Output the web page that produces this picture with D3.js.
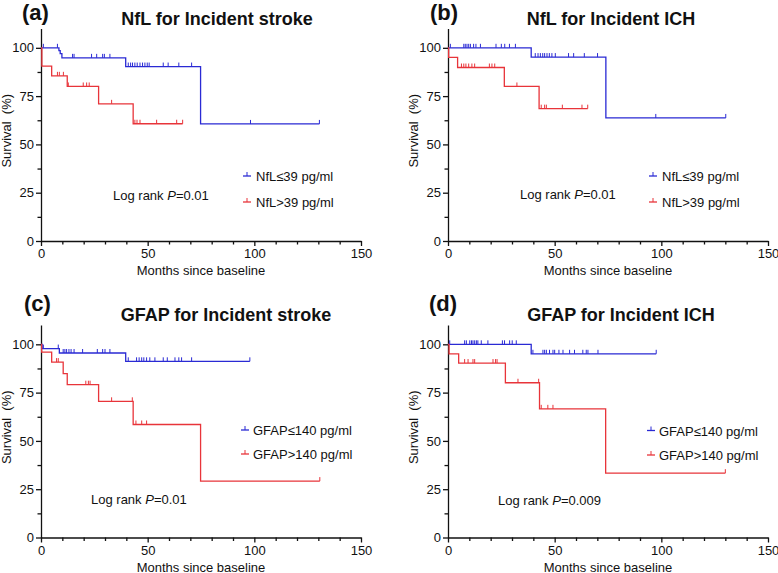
<!DOCTYPE html>
<html>
<head>
<meta charset="utf-8">
<script src="https://cdn.jsdelivr.net/npm/d3@7"></script>
<style>
  html, body { margin: 0; padding: 0; background: #fff; }
  svg text { font-family: "Liberation Sans", Arial, sans-serif; fill: #111; }
</style>
</head>
<body>
<svg id="chart" width="778" height="573"></svg>
<script>
// ---------------- DATA ----------------
const panelLabels = ["(a)", "(b)", "(c)", "(d)"];
const panelTitles = ["NfL for Incident stroke", "NfL for Incident ICH", "GFAP for Incident stroke", "GFAP for Incident ICH"];
const legendLow = ["NfL≤39 pg/ml", "NfL≤39 pg/ml", "GFAP≤140 pg/ml", "GFAP≤140 pg/ml"];
const legendHigh = ["NfL>39 pg/ml", "NfL>39 pg/ml", "GFAP>140 pg/ml", "GFAP>140 pg/ml"];
const pValues = ["0.01", "0.01", "0.01", "0.009"];
const xMajorTicks = [0, 50, 100, 150];
const xMinorTicks = [10, 20, 30, 40, 60, 70, 80, 90, 110, 120, 130, 140];
const yMajorTicks = [0, 25, 50, 75, 100];
const yMinorTicks = [12.5, 37.5, 62.5, 87.5];
const xLabel = "Months since baseline";
const yLabel = "Survival  (%)";

// [month, survival %] step points (last = end of follow-up)
const aLowSteps  = [[0,100],[8.4,98.5],[9,97],[9.8,94.8],[39.7,90.3],[74.8,60.6],[130.5,60.6]];
const aLowCensor = [1.1,7.7,14.8,15.5,23.7,26.1,28.9,29.7,32.3,40.9,42,42.9,44,45.1,46.4,47.6,48.7,49.8,50.7,57.3,59.6,64.6,70.6,98.2,130.5];
const aHighSteps  = [[0,100],[0.4,90.5],[5,85.5],[12.3,80],[27,71],[43.2,60.7],[66.4,60.7]];
const aHighCensor = [7.7,8.6,10.5,12.8,19.8,21.4,22.6,33.1,44,45,46.4,54.2,63.6,66.4];

const bLowSteps  = [[0,100],[39,95.2],[74,63.7],[130.2,63.7]];
const bLowCensor = [1.1,7.4,8.1,8.9,9.7,10.5,12,13.1,15.2,22.5,25,26.6,28.8,31.6,40.9,42.2,43.3,44.4,45.3,46.4,47.5,48.7,50.3,56.5,58.9,63.9,70.1,97.4,130.2];
const bHighSteps  = [[0,100],[0.3,95.1],[4.5,89.8],[26.4,80],[42.7,68.5],[65.5,68.5]];
const bHighCensor = [6.3,7.4,8.4,9.7,11.2,12.5,19.4,20.6,21.9,32.3,43.7,45.3,46.1,53.6,62.8,65.5];

const cLowSteps  = [[0,100],[0.5,97.8],[8.6,95.5],[39.7,91.2],[97.9,91.2]];
const cLowCensor = [1.1,8.1,10.4,11.2,12,13.1,14.1,15.5,19.5,26.4,28.9,30,32.3,40.9,44.8,46,47.2,48.2,49.5,51,53.4,57.3,59.2,62.8,64.6,65.9,70.6,97.9];
const cHighSteps  = [[0,100],[0.3,96],[5,90.8],[10.4,84.8],[12.3,79.1],[27,70.5],[43.2,58.5],[74.8,29.2],[130.7,29.2]];
const cHighCensor = [7.3,8.1,21,22.2,23,33.1,42.8,44.5,47.2,49.5,130.7];

const dLowSteps  = [[0,100],[39,95.1],[97.6,95.1]];
const dLowCensor = [0.8,7.8,8.6,10.2,11,11.7,12.5,13.3,14,15.6,18.7,25.5,26.5,28.9,30.1,32,39.8,44.5,45.3,46.1,47.6,49.2,50,52,53.9,57,59.3,63.2,64.8,65.6,70.3,97.6];
const dHighSteps  = [[0,100],[0.5,95.1],[5,90.3],[26.9,80.1],[42.9,66.6],[73.9,33.3],[130,33.3]];
const dHighCensor = [7.8,9.4,11.7,12.5,21.1,22.3,23,32.8,42.5,43.7,46.8,49.2,130];

const lowSteps = [aLowSteps, bLowSteps, cLowSteps, dLowSteps];
const lowCensor = [aLowCensor, bLowCensor, cLowCensor, dLowCensor];
const highSteps = [aHighSteps, bHighSteps, cHighSteps, dHighSteps];
const highCensor = [aHighCensor, bHighCensor, cHighCensor, dHighCensor];

// ---------------- LAYOUT ----------------
const BLUE = "#2a2ad4", RED = "#e8343a";
const layout = [
  { x0: 41,  x1: 361, yb: 241,   yt: 28.5, titleX: 217, titleY: 24.5, labX: 22,  labY: 19.5,
    logX: 113, logY: 200, legSym: 247, legTxt: 256, legY: [176, 202] },
  { x0: 448, x1: 768, yb: 241,   yt: 28.5, titleX: 611, titleY: 24.5, labX: 430, labY: 19.5,
    logX: 520, logY: 199, legSym: 653, legTxt: 662, legY: [176, 202] },
  { x0: 41,  x1: 361, yb: 537.5, yt: 325,  titleX: 226, titleY: 320.5, labX: 24, labY: 311,
    logX: 91, logY: 504, legSym: 245, legTxt: 253, legY: [430, 454] },
  { x0: 448, x1: 768, yb: 537.5, yt: 325,  titleX: 621, titleY: 321, labX: 429, labY: 311,
    logX: 498, logY: 505, legSym: 651, legTxt: 659, legY: [430.5, 455] }
];

const svg = d3.select("#chart");

function survAt(steps, t) {
  let s = steps[0][1];
  for (const p of steps) { if (p[0] <= t) s = p[1]; }
  return s;
}

layout.forEach((L, i) => {
  const g = svg.append("g");
  const x = d3.scaleLinear().domain([0, 150]).range([L.x0, L.x1]);
  const y = d3.scaleLinear().domain([0, 110]).range([L.yb, L.yt]);

  // axes
  g.append("g").attr("transform", `translate(0,${L.yb})`)
    .call(d3.axisBottom(x).tickValues(xMajorTicks).tickSize(5).tickSizeOuter(0).tickPadding(3));
  const xAxMin = g.append("g").attr("transform", `translate(0,${L.yb})`)
    .call(d3.axisBottom(x).tickValues(xMinorTicks).tickSize(3.5).tickSizeOuter(0).tickFormat(""));
  xAxMin.select(".domain").remove();
  g.append("g").attr("transform", `translate(${L.x0},0)`)
    .call(d3.axisLeft(y).tickValues(yMajorTicks).tickSize(5).tickSizeOuter(0).tickPadding(2));
  const yAxMin = g.append("g").attr("transform", `translate(${L.x0},0)`)
    .call(d3.axisLeft(y).tickValues(yMinorTicks).tickSize(3.5).tickSizeOuter(0).tickFormat(""));
  yAxMin.select(".domain").remove();
  g.selectAll(".domain, .tick line").attr("stroke", "#111").attr("stroke-width", 1.3);
  g.selectAll(".tick text").attr("font-size", 13).attr("font-family", '"Liberation Sans", Arial, sans-serif').attr("fill", "#111");

  // axis titles
  g.append("text").attr("x", (L.x0 + L.x1) / 2).attr("y", L.yb + 34)
    .attr("text-anchor", "middle").attr("font-size", 13).text(xLabel);
  g.append("text").attr("transform", `translate(${L.x0 - 30},${(L.yb + L.yt) / 2 - 4}) rotate(-90)`)
    .attr("text-anchor", "middle").attr("font-size", 13).style("white-space", "pre").text(yLabel);

  // title + panel label
  g.append("text").attr("x", L.titleX).attr("y", L.titleY).attr("text-anchor", "middle")
    .attr("font-size", 18).attr("font-weight", "bold").text(panelTitles[i]);
  g.append("text").attr("x", L.labX).attr("y", L.labY)
    .attr("font-size", 22).attr("font-weight", "bold").text(panelLabels[i]);

  // curves
  const line = d3.line().x(d => x(d[0])).y(d => y(d[1])).curve(d3.curveStepAfter);
  const series = [
    { steps: lowSteps[i], cens: lowCensor[i], color: BLUE },
    { steps: highSteps[i], cens: highCensor[i], color: RED }
  ];
  series.forEach(s => {
    g.append("path").datum(s.steps).attr("d", line)
      .attr("fill", "none").attr("stroke", s.color).attr("stroke-width", 1.3);
    g.selectAll(null).data(s.cens).enter().append("line")
      .attr("x1", t => x(t)).attr("x2", t => x(t))
      .attr("y1", t => y(survAt(s.steps, t))).attr("y2", t => y(survAt(s.steps, t)) - 4)
      .attr("stroke", s.color).attr("stroke-width", 1);
  });

  // legend
  [[legendLow[i], BLUE], [legendHigh[i], RED]].forEach((item, k) => {
    const ly = L.legY[k];
    g.append("line").attr("x1", L.legSym - 4).attr("x2", L.legSym + 4).attr("y1", ly).attr("y2", ly)
      .attr("stroke", item[1]).attr("stroke-width", 1.3);
    g.append("line").attr("x1", L.legSym).attr("x2", L.legSym).attr("y1", ly).attr("y2", ly - 4)
      .attr("stroke", item[1]).attr("stroke-width", 1);
    g.append("text").attr("x", L.legTxt).attr("y", ly + 5).attr("font-size", 13).text(item[0]);
  });

  // log rank
  const lr = g.append("text").attr("x", L.logX).attr("y", L.logY).attr("font-size", 13);
  lr.append("tspan").text("Log rank ");
  lr.append("tspan").attr("font-style", "italic").text("P");
  lr.append("tspan").text("=" + pValues[i]);
});
</script>
</body>
</html>
